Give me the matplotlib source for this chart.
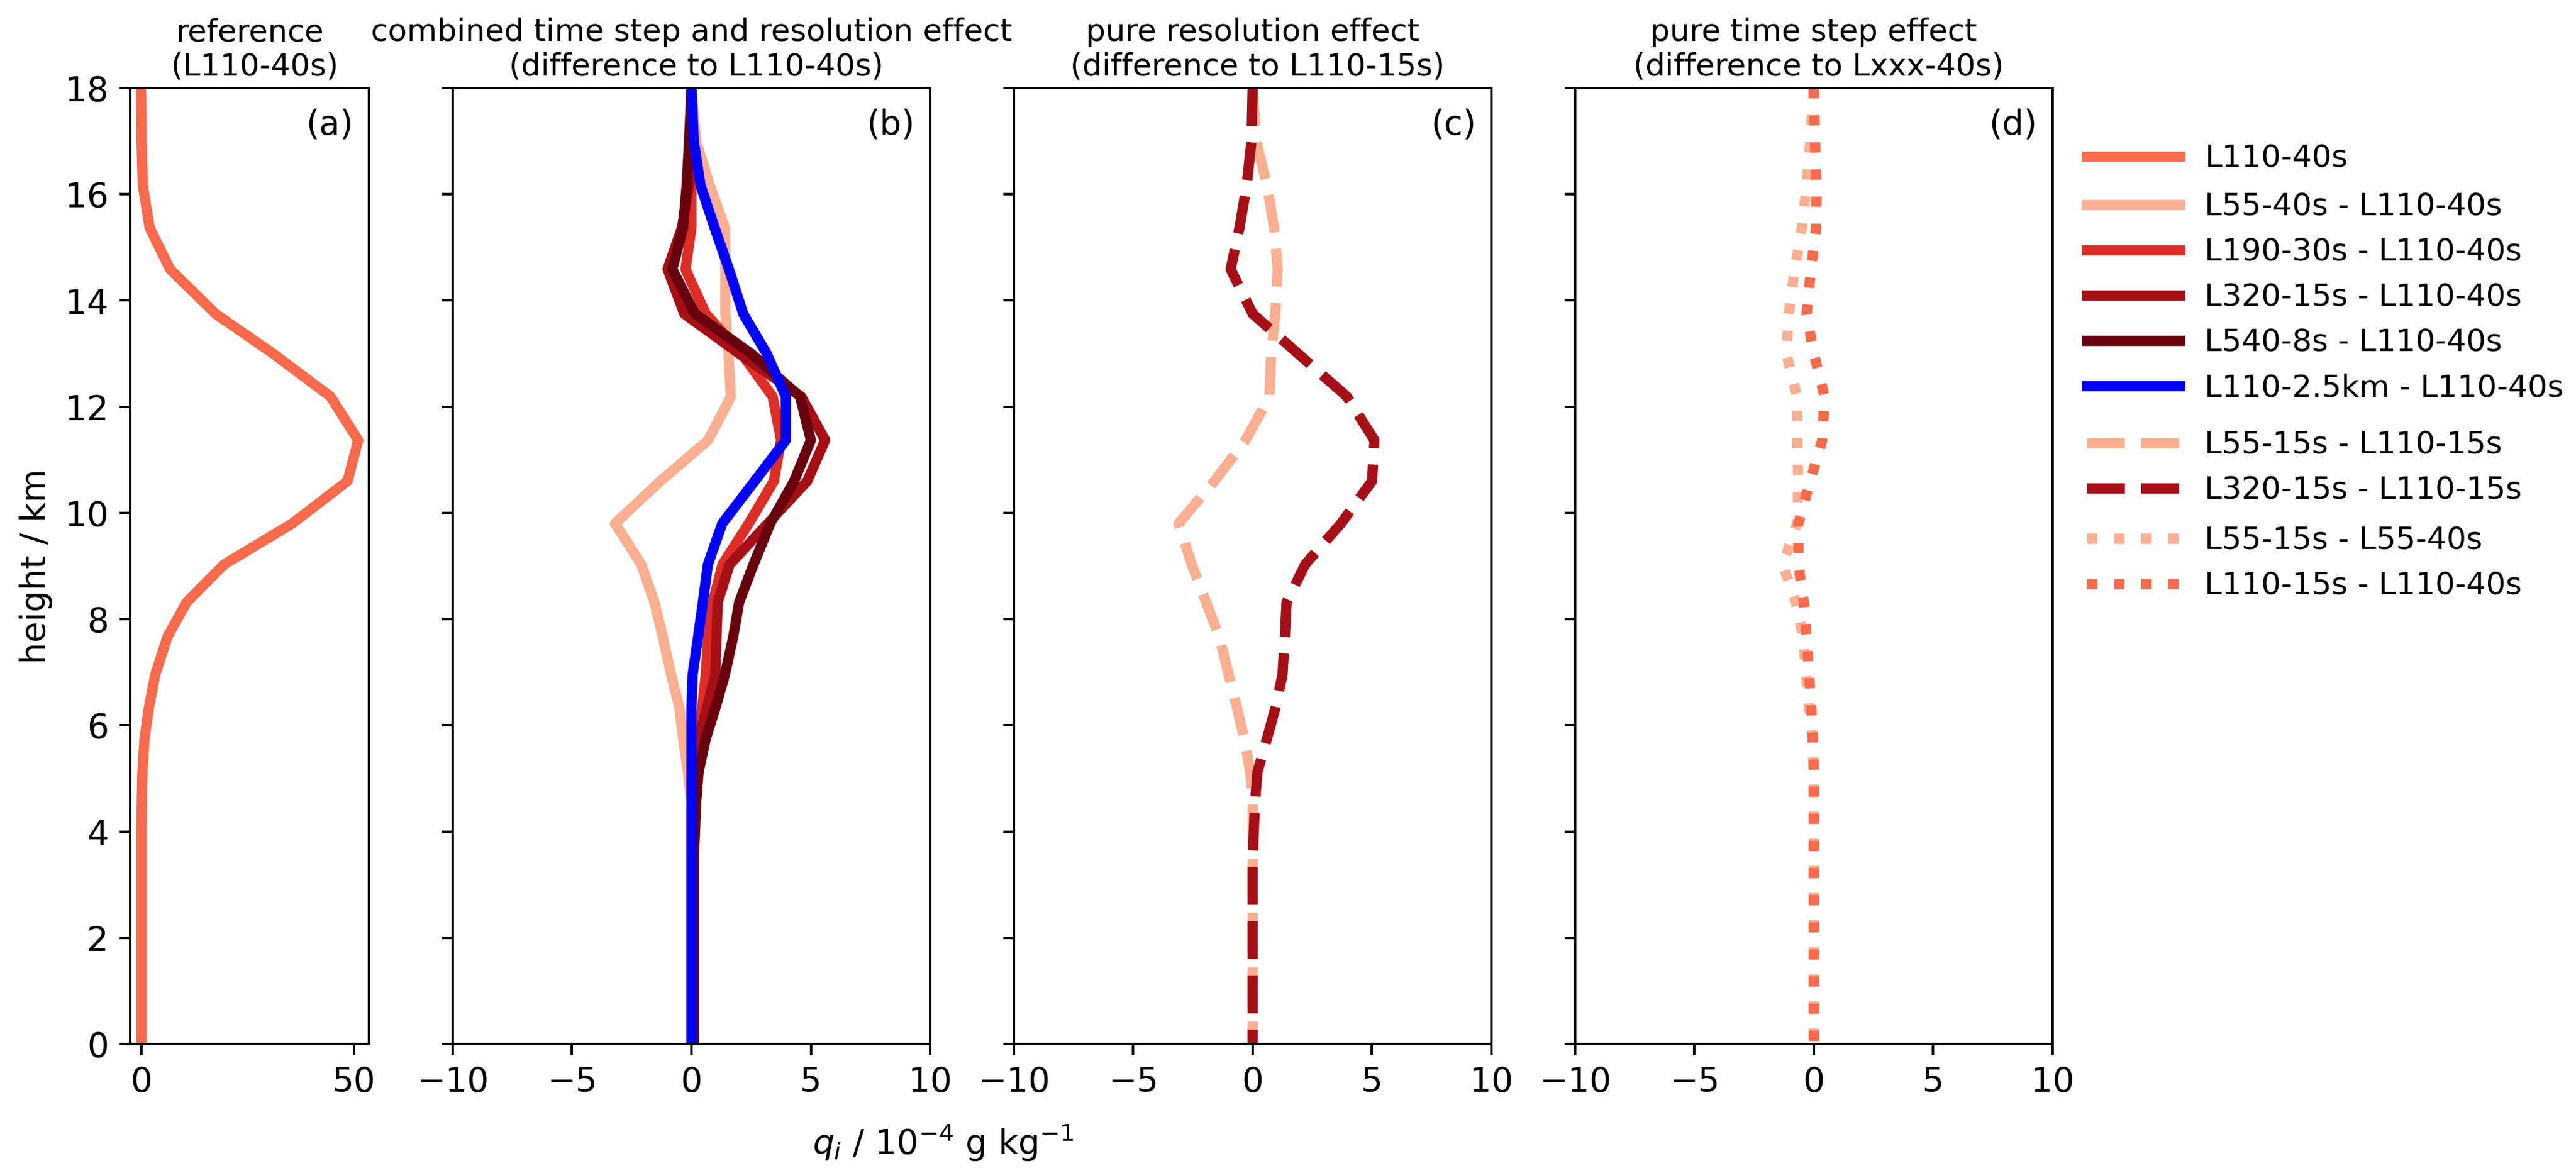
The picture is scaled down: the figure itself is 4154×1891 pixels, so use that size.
import matplotlib
matplotlib.use("Agg")
import matplotlib.pyplot as plt
from matplotlib.gridspec import GridSpec

# ---------------- data ----------------
height_km = [0.0, 0.5, 1.0, 1.5, 2.0, 2.5, 3.0, 3.5, 4.0, 4.55, 5.12, 5.75, 6.32, 6.95,
             7.67, 8.32, 9.03, 9.8, 10.6, 11.37, 12.19, 13.0, 13.75, 14.59, 15.37,
             16.17, 17.0, 18.0]

# panel (a): reference profile L110-40s (10^-4 g/kg)
ref_L110_40s = [0.1, 0.1, 0.1, 0.1, 0.1, 0.1, 0.1, 0.1, 0.1, 0.15, 0.3, 0.8, 1.8, 3.3,
                6.2, 10.7, 19.5, 35.5, 48.5, 51.0, 44.5, 31.0, 17.5, 6.8, 2.0,
                0.4, 0.1, 0.0]

# panel (b): combined effect, difference to L110-40s
d_L55_40s = [0.0, 0.0, 0.0, 0.0, 0.0, 0.0, 0.0, 0.0, 0.0, 0.0, -0.15, -0.35, -0.5, -0.85,
             -1.2, -1.55, -2.1, -3.2, -1.3, 0.7, 1.65, 1.55, 1.42, 1.42, 1.4,
             0.77, 0.2, 0.0]
d_L190_30s = [0.1, 0.1, 0.1, 0.1, 0.1, 0.1, 0.1, 0.1, 0.1, 0.1, 0.15, 0.25, 0.45, 0.6,
              0.7, 0.9, 1.3, 2.4, 3.45, 3.75, 3.4, 2.1, 0.6, -0.25, 0.0,
              0.0, 0.0, 0.0]
d_L320_15s = [0.1, 0.1, 0.1, 0.1, 0.1, 0.1, 0.1, 0.1, 0.1, 0.15, 0.2, 0.3, 0.65, 1.0,
              1.05, 1.1, 1.6, 3.2, 4.85, 5.6, 4.6, 2.0, -0.3, -1.0, -0.4,
              -0.1, 0.0, 0.0]
d_L540_8s = [0.1, 0.1, 0.1, 0.1, 0.1, 0.1, 0.1, 0.1, 0.15, 0.2, 0.3, 0.6, 1.0, 1.4,
             1.75, 2.0, 2.6, 3.3, 4.3, 5.0, 4.55, 2.5, 0.15, -0.8, -0.35,
             -0.2, -0.1, 0.0]
d_L110_2p5km = [0.0, 0.0, 0.0, 0.0, 0.0, 0.0, 0.0, 0.0, 0.0, 0.0, 0.0, 0.0, 0.0, 0.05,
                0.28, 0.48, 0.69, 1.29, 2.65, 3.95, 3.95, 3.15, 2.17, 1.57, 0.97,
                0.38, 0.1, 0.0]

# panel (c): pure resolution effect, difference to L110-15s
r_L55_15s = [0.0, 0.0, 0.0, 0.0, 0.0, 0.0, 0.0, 0.0, 0.0, 0.0, -0.1, -0.35, -0.65, -1.0,
             -1.4, -1.95, -2.55, -3.1, -1.6, -0.3, 0.7, 0.78, 0.95, 1.05, 0.9,
             0.6, 0.15, 0.0]
r_L320_15s = [0.0, 0.0, 0.0, 0.0, 0.0, 0.0, 0.0, 0.0, 0.05, 0.1, 0.2, 0.6, 0.95, 1.25,
              1.35, 1.42, 2.2, 3.7, 5.0, 5.1, 3.95, 1.9, 0.0, -0.92, -0.55,
              -0.25, -0.05, 0.0]

# panel (d): pure time step effect, difference to Lxxx-40s
t_L55_15s = [0.0, 0.0, 0.0, 0.0, 0.0, 0.0, 0.0, 0.0, 0.0, 0.0, 0.0, -0.05, -0.2, -0.32,
             -0.45, -0.75, -1.3, -0.7, -0.65, -0.7, -0.7, -1.15, -1.05, -0.8, -0.5,
             -0.3, -0.15, 0.0]
t_L110_15s = [0.0, 0.0, 0.0, 0.0, 0.0, 0.0, 0.0, 0.0, 0.0, 0.0, 0.0, -0.05, -0.1, -0.2,
              -0.3, -0.42, -0.65, -0.65, -0.15, 0.35, 0.45, 0.0, -0.3, -0.12, 0.1,
              0.12, 0.05, 0.0]

titles = ["reference\n (L110-40s)",
          "combined time step and resolution effect\n (difference to L110-40s)",
          "pure resolution effect\n (difference to L110-15s)",
          "pure time step effect\n (difference to Lxxx-40s)"]
panel_labels = ["(a)", "(b)", "(c)", "(d)"]
yticks = [0, 2, 4, 6, 8, 10, 12, 14, 16, 18]
xticks_diff = [-10, -5, 0, 5, 10]
xticks_ref = [0, 50]

# ---------------- style ----------------
c_L110 = "#fb6a4a"
c_L55 = "#fcae91"
c_L190 = "#de2d26"
c_L320 = "#a50f15"
c_L540 = "#67000d"
c_blue = "#0000ff"
LW = 3.3

W, H, DPI = 4154, 1891, 360
fig = plt.figure(figsize=(W / DPI, H / DPI), dpi=DPI)
gs = GridSpec(1, 4, figure=fig, width_ratios=[1, 2, 2, 2],
              left=210 / W, right=3310 / W, top=1 - 142 / H, bottom=1 - 1683 / H,
              wspace=0.2)
axes = [fig.add_subplot(gs[0, i]) for i in range(4)]
axa, axb, axc, axd = axes

# profiles are drawn from model top downwards (model level order)
zz = height_km[::-1]

la, = axa.plot(ref_L110_40s[::-1], zz, color=c_L110, lw=LW, label="L110-40s")

hb = []
for vals, col, lab in [(d_L55_40s, c_L55, "L55-40s - L110-40s"),
                       (d_L190_30s, c_L190, "L190-30s - L110-40s"),
                       (d_L320_15s, c_L320, "L320-15s - L110-40s"),
                       (d_L540_8s, c_L540, "L540-8s - L110-40s"),
                       (d_L110_2p5km, c_blue, "L110-2.5km - L110-40s")]:
    h, = axb.plot(vals[::-1], zz, color=col, lw=LW, label=lab)
    hb.append(h)

hc = []
for vals, col, lab in [(r_L55_15s, c_L55, "L55-15s - L110-15s"),
                       (r_L320_15s, c_L320, "L320-15s - L110-15s")]:
    h, = axc.plot(vals[::-1], zz, color=col, lw=LW, ls="--", label=lab)
    hc.append(h)

hd = []
for vals, col, lab in [(t_L55_15s, c_L55, "L55-15s - L55-40s"),
                       (t_L110_15s, c_L110, "L110-15s - L110-40s")]:
    h, = axd.plot(vals[::-1], zz, color=col, lw=LW, ls=":", label=lab)
    hd.append(h)

for i, ax in enumerate(axes):
    ax.set_ylim(0, 18)
    ax.set_yticks(yticks)
    ax.tick_params(labelsize=11)
    ax.set_title(titles[i], fontsize=10, pad=4)
    ax.annotate(panel_labels[i], xy=(1, 1), xycoords="axes fraction",
                xytext=(-5, -6.4), textcoords="offset points",
                ha="right", va="top", fontsize=11)
    if i > 0:
        ax.set_xlim(-10, 10)
        ax.set_xticks(xticks_diff)
        ax.set_yticklabels([])
axa.set_xticks(xticks_ref)
axa.set_ylabel("height / km", fontsize=11)

fig.text(1521 / W, 1 - 1860 / H, r"$q_i$ / 10$^{-4}$ g kg$^{-1}$", fontsize=11,
         ha="center", va="baseline")

lx = 3345 / W
leg_kw = dict(loc="center left", frameon=False, fontsize=10, handlelength=3.0,
              borderaxespad=0)
fig.legend(handles=[la], bbox_to_anchor=(lx, 1 - 255.8 / H), **leg_kw)
fig.legend(handles=hb, bbox_to_anchor=(lx, 1 - 479.2 / H), **leg_kw)
fig.legend(handles=hc, bbox_to_anchor=(lx, 1 - 754.3 / H), **leg_kw)
fig.legend(handles=hd, bbox_to_anchor=(lx, 1 - 908.3 / H), **leg_kw)

fig.savefig("out.png", dpi=DPI)
